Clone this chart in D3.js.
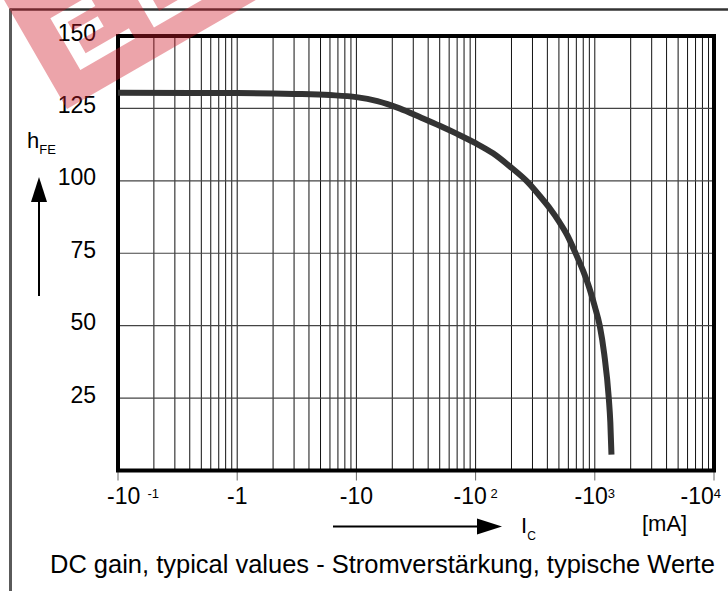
<!DOCTYPE html>
<html><head><meta charset="utf-8">
<script src="https://cdn.jsdelivr.net/npm/d3@7"></script>
<style>
body{margin:0;background:#fff}
svg{display:block}
text{font-family:"Liberation Sans",Arial,Helvetica,sans-serif;fill:#000}
</style>
</head><body>
<svg id="c" width="728" height="591"></svg>
<script>
// ---- data (collector current magnitudes in mA, plotted as negative values) ----
const currentMA = [0.1, 1, 3, 6, 10, 15, 23, 35, 50, 70, 100, 140, 200, 270, 350, 425, 500, 586, 690, 800, 900, 1000, 1100, 1200, 1310, 1350, 1380];
const gainHFE  = [130.4, 130.3, 130.0, 129.6, 128.9, 127.5, 125.0, 121.8, 119.0, 116.2, 113.0, 109.5, 104.5, 99.8, 94.5, 90.2, 86.0, 81.3, 75.0, 68.8, 63.0, 56.6, 50.0, 40.2, 25.0, 16.5, 5.5];
const yTickValues = [25, 50, 75, 100, 125, 150];
const xTickValues = [0.1, 1, 10, 100, 1000, 10000];
const xTickMain = ["-10", "-1", "-10", "-10", "-10", "-10"];
const xTickSup  = ["  -1", "", "", " 2", "3", "4"];
const captionText = "DC gain, typical values - Stromverstärkung, typische Werte";

const svg = d3.select("#c");
const L = 118, R = 714, T = 36, B = 470.5;
const x = d3.scaleLog().domain([0.1, 10000]).range([L, R]);
const y = d3.scaleLinear().domain([0, 150]).range([B, T]);

// outer frame
svg.append("line").attr("x1", 10).attr("x2", 728).attr("y1", 9.5).attr("y2", 9.5)
  .attr("stroke", "#333").attr("stroke-width", 2.5);
svg.append("line").attr("x1", 10.5).attr("x2", 10.5).attr("y1", 8.5).attr("y2", 591)
  .attr("stroke", "#5a5a5a").attr("stroke-width", 3);

// vertical grid (1..9 per decade)
const vGrid = [];
for (let d = -1; d < 4; d++) for (let k = 1; k <= 9; k++) vGrid.push(k * Math.pow(10, d));
svg.append("g").selectAll("line").data(vGrid).join("line")
  .attr("x1", d => x(d)).attr("x2", d => x(d)).attr("y1", T).attr("y2", B)
  .attr("stroke", "#111").attr("stroke-width", 1);

// horizontal grid
svg.append("g").selectAll("line").data(yTickValues.filter(v => v < 150)).join("line")
  .attr("x1", L).attr("x2", R).attr("y1", d => y(d)).attr("y2", d => y(d))
  .attr("stroke", "#444").attr("stroke-width", 1.2);

// x ticks below axis
svg.append("g").selectAll("line").data(xTickValues).join("line")
  .attr("x1", d => x(d)).attr("x2", d => x(d)).attr("y1", B).attr("y2", B + 10)
  .attr("stroke", "#666").attr("stroke-width", 1);

// plot frame
svg.append("rect").attr("x", L).attr("y", T).attr("width", R - L).attr("height", B - T)
  .attr("fill", "none").attr("stroke", "#000").attr("stroke-width", 4);

// curve
const pts = currentMA.map((c, i) => [c, gainHFE[i]]);
svg.append("path").datum(pts)
  .attr("d", d3.line().x(d => x(d[0])).y(d => y(d[1])).curve(d3.curveMonotoneX))
  .attr("fill", "none").attr("stroke", "#333").attr("stroke-width", 6).attr("stroke-linecap", "butt");

// y tick labels
svg.append("g").selectAll("text").data(yTickValues).join("text")
  .attr("x", 96).attr("y", d => y(d) + 4.5).attr("text-anchor", "end")
  .attr("font-size", 23).text(d => d);

// x tick labels
const xl = svg.append("g").selectAll("text").data(xTickValues).join("text")
  .attr("x", d => x(d)).attr("y", 504).attr("text-anchor", "middle")
  .attr("font-size", 23).style("white-space", "pre");
xl.each(function (d, i) {
  const t = d3.select(this);
  t.append("tspan").text(xTickMain[i]);
  if (xTickSup[i]) t.append("tspan").attr("font-size", 13).attr("dy", -6).text(xTickSup[i]);
  const bb = this.getBBox();
  let shift = 0;
  if (bb.x < 107) shift = 107 - bb.x;
  if (bb.x + bb.width > 721) shift = 721 - (bb.x + bb.width);
  t.attr("x", x(d) + shift);
});

// y axis label h_FE
const hl = svg.append("text").attr("x", 27).attr("y", 148).attr("font-size", 22);
hl.append("tspan").text("h");
hl.append("tspan").attr("font-size", 13).attr("dy", 6).text("FE");

// arrows
function arrow(x1, y1, x2, y2) {
  const ang = Math.atan2(y2 - y1, x2 - x1);
  const len = 25, hw = 8;
  const bx = x2 - len * Math.cos(ang), by = y2 - len * Math.sin(ang);
  svg.append("line").attr("x1", x1).attr("y1", y1).attr("x2", bx).attr("y2", by)
    .attr("stroke", "#000").attr("stroke-width", 2);
  const px = -Math.sin(ang) * hw, py = Math.cos(ang) * hw;
  svg.append("path").attr("d", `M${x2},${y2}L${bx + px},${by + py}L${bx - px},${by - py}Z`).attr("fill", "#000");
}
arrow(39, 296, 39, 177);
arrow(333, 526.5, 502, 526.5);

// I_C label
const il = svg.append("text").attr("x", 521).attr("y", 533).attr("font-size", 22);
il.append("tspan").text("I");
il.append("tspan").attr("font-size", 12).attr("dy", 7).text("C");
svg.append("text").attr("x", 642).attr("y", 531).attr("font-size", 22).text("[mA]");

// caption
const cap = svg.append("text").attr("x", 50).attr("y", 573).attr("font-size", 22).text(captionText);
const w = cap.node().getComputedTextLength();
cap.attr("font-size", 22 * 665 / w);

// watermark: translucent red band with two "E" letters left open
function letterE(o, bo) {
  const a = v => v + o, b = v => v + bo;
  return `M${a(37)},${b(-108)}H${a(82)}V${b(-96)}H${a(50)}V${b(-86)}H${a(79)}V${b(-74)}H${a(50)}V${b(-60)}H${a(100)}V${b(-48)}H${a(37)}Z`;
}
svg.append("g").attr("transform", "translate(67,109) rotate(-30)")
  .append("path")
  .attr("d", "M0,-200H250V0H0Z" + letterE(-6, 21) + letterE(79, 21))
  .attr("fill-rule", "evenodd")
  .attr("fill", "rgb(207,27,42)").attr("fill-opacity", 0.4);
</script>
</body></html>
